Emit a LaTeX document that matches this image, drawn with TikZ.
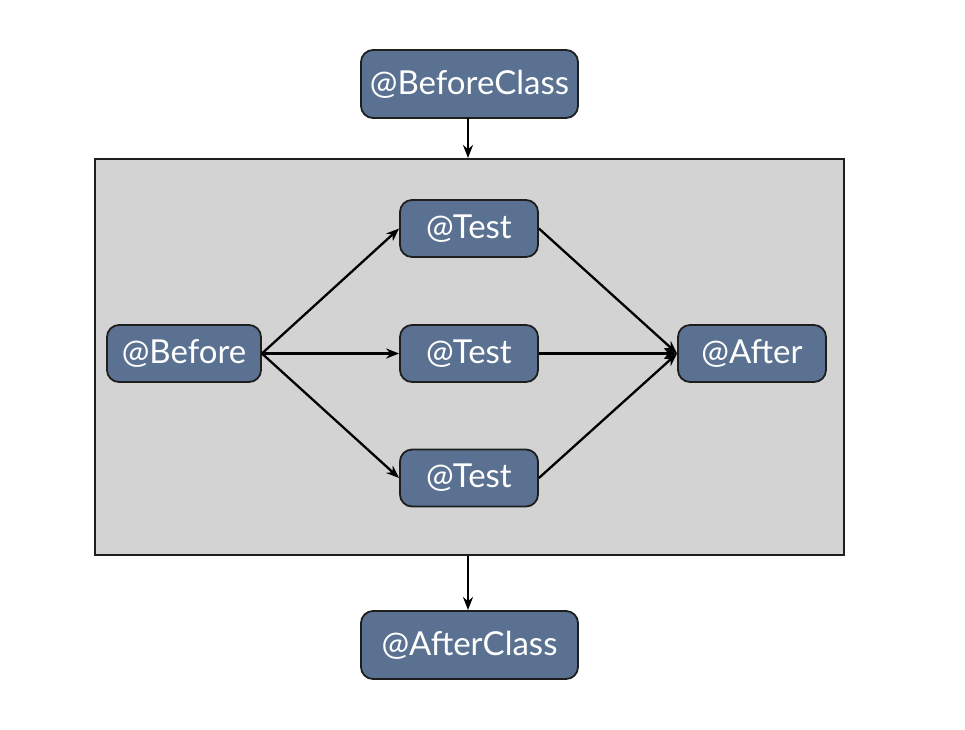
\documentclass[tikz,border=0pt]{standalone}
\usepackage{fontspec}
\setmainfont{Lato}
\usetikzlibrary{arrows.meta}
\definecolor{boxfill}{HTML}{5A7191}
\definecolor{panel}{HTML}{D3D3D3}
\definecolor{edge}{HTML}{1E1E1E}
\tikzset{
  x=1pt,y=-1pt,
  annot/.style={draw=edge, line width=1.8pt, fill=boxfill, rounded corners=12pt,
    text=white, font=\fontsize{33}{38}\selectfont, inner sep=0pt, align=center},
  arr/.style={-{Stealth[length=13pt,width=10pt]}, line width=2.3pt, draw=black},
}
\begin{document}
\begin{tikzpicture}
\useasboundingbox (0,0) rectangle (965,729);
\fill[white] (0,0) rectangle (965,729);
\node[draw=edge, fill=panel, line width=1.8pt, minimum width=749pt, minimum height=396pt, inner sep=0pt] (panel) at (469.5,357) {};
\node[annot, minimum width=217pt, minimum height=68pt] (bc) at (469.5,84) {@BeforeClass};
\node[annot, minimum width=217pt, minimum height=68pt] (ac) at (469.5,645) {@AfterClass};
\node[annot, minimum width=154pt, minimum height=57pt] (before) at (184,353.5) {@Before};
\node[annot, minimum width=138pt, minimum height=57pt] (t1) at (469,228.5) {@Test};
\node[annot, minimum width=138pt, minimum height=57pt] (t2) at (469,353.5) {@Test};
\node[annot, minimum width=138pt, minimum height=57pt] (t3) at (469,478) {@Test};
\node[annot, minimum width=148pt, minimum height=57pt] (after) at (752,353.5) {@After};
\coordinate (ptop) at (468,158);
\coordinate (pbot) at (468,556);
\draw[arr] (468,118) -- (ptop);
\draw[arr] (pbot) -- (468,610);
\draw[arr] (before.east) -- (t1.west);
\draw[arr] (before.east) -- (t2.west);
\draw[arr] (before.east) -- (t3.west);
\draw[arr] (t1.east) -- (after.west);
\draw[arr] (t2.east) -- (after.west);
\draw[arr] (t3.east) -- (after.west);
\end{tikzpicture}
\end{document}
